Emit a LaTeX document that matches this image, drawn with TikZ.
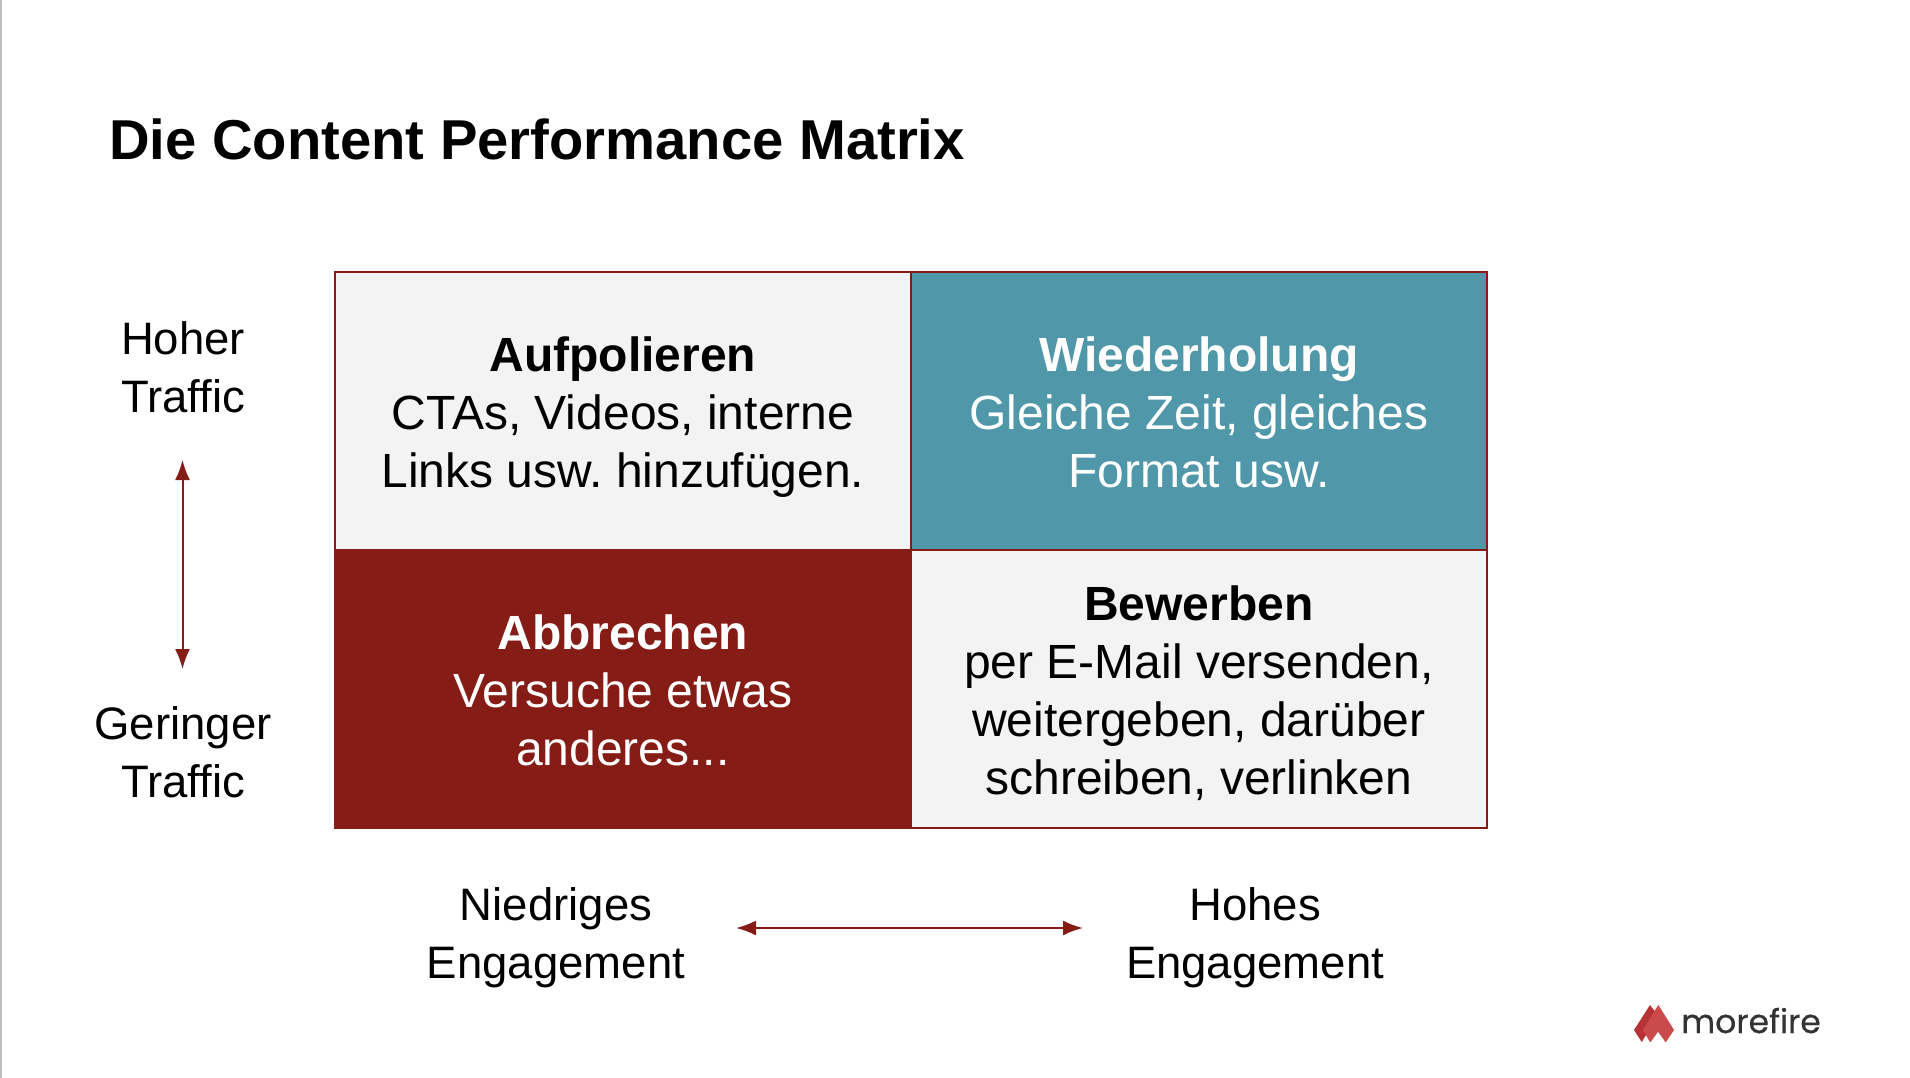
\documentclass[tikz,border=0pt]{standalone}
\usepackage{fontspec}
\setmainfont{Liberation Sans}
\newfontfamily\logofont[FakeBold=0.5]{Poppins}
\usetikzlibrary{arrows.meta}
\definecolor{cellgray}{HTML}{F3F3F3}
\definecolor{teal1}{HTML}{4F97A9}
\definecolor{dred}{HTML}{851C15}
\definecolor{logoA}{HTML}{B73234}
\definecolor{logoB}{HTML}{CB4A4C}
\newcommand{\topstrut}{\rule{0pt}{34pt}}
\newcommand{\botstrut}{\rule[-11pt]{0pt}{11pt}}
\tikzset{
  x=1pt,y=-1pt,
  cell/.style={draw=dred,line width=1.8pt,minimum width=576pt,minimum height=278pt,inner sep=0pt,anchor=north west},
  txt/.style={align=center,inner sep=0pt,font=\frenchspacing\fontsize{48}{58}\selectfont,yshift=-6.5pt},
  wtxt/.style={txt,text=white},
  lbl/.style={align=center,inner sep=0pt,font=\fontsize{45.5}{58}\selectfont},
  dbl/.style={draw=dred,line width=2pt,{Latex[length=20pt,width=15pt]}-{Latex[length=20pt,width=15pt]}},
}
\begin{document}
\begin{tikzpicture}
\useasboundingbox (0,0) rectangle (1910,1078);
\fill[white] (0,0) rectangle (1910,1078);
\fill[black!25] (0,0) rectangle (1.5,1078);
\node[anchor=base west,inner sep=0pt,font=\fontsize{56.2}{60}\selectfont\bfseries] (title) at (109,160) {Die Content Performance Matrix};
\node[cell,fill=cellgray] (a) at (334,271) {};
\node[cell,fill=teal1] (b) at (910,271) {};
\node[cell,fill=dred] (c) at (334,549) {};
\node[cell,fill=cellgray] (d) at (910,549) {};
\node[txt] (at) at (a.center) {\topstrut\textbf{Aufpolieren}\\CTAs, Videos, interne\\Links usw. hinzufügen.\botstrut};
\node[wtxt] (bt) at (b.center) {\topstrut\textbf{Wiederholung}\\Gleiche Zeit, gleiches\\Format usw.\botstrut};
\node[wtxt] (ct) at (c.center) {\topstrut\textbf{Abbrechen}\\Versuche etwas\\anderes...\botstrut};
\node[txt] (dt) at (d.center) {\topstrut\textbf{Bewerben}\\per E-Mail versenden,\\weitergeben, darüber\\schreiben, verlinken\botstrut};
\node[lbl] (hi) at (183,367) {Hoher\\Traffic};
\node[lbl] (lo) at (183,752) {Geringer\\Traffic};
\node[lbl] (ne) at (556,938) {Niedriges\\Engagement};
\node[lbl] (he) at (1255,938) {Hohes\\Engagement};
\coordinate (vt) at (182.5,460);
\coordinate (vb) at (182.5,669);
\coordinate (hl) at (736,928);
\coordinate (hr) at (1083,928);
\draw[dbl] (vt) -- (vb);
\draw[dbl] (hl) -- (hr);
\fill[logoA] (1650,1005) -- (1660,1018) -- (1650,1042) -- (1646,1035) -- (1641.7,1042) -- (1634,1030) -- cycle;
\fill[logoB] (1658.3,1005) -- (1674,1030) -- (1665.7,1042.3) -- (1658,1031.7) -- (1650.7,1042) -- (1642.7,1030) -- cycle;
\node[anchor=base west,inner sep=0pt,text=black!80,font=\logofont\fontsize{33}{40}\selectfont] (logo) at (1681,1033) {morefire};
\end{tikzpicture}
\end{document}
